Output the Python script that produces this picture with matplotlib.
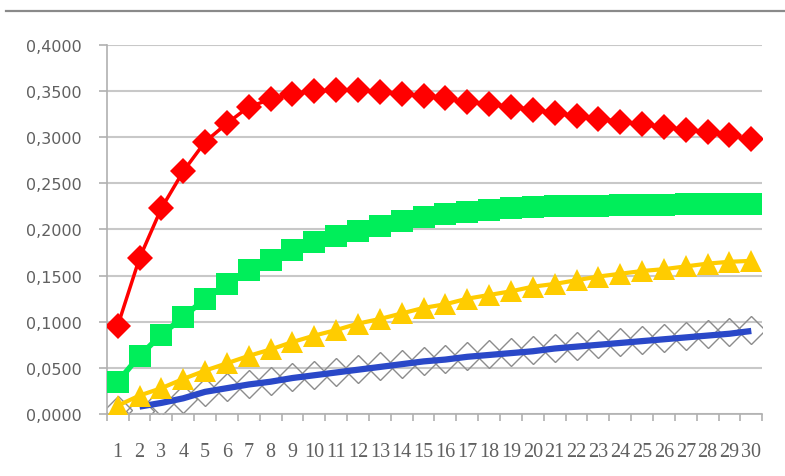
import numpy as np
import matplotlib
matplotlib.use("Agg")
import matplotlib.pyplot as plt
from matplotlib.lines import Line2D
from matplotlib.ticker import FuncFormatter, MultipleLocator

# data
categories = list(range(1, 31))
red_vals = [0.0955, 0.169, 0.223, 0.263, 0.295, 0.315, 0.333, 0.341, 0.347, 0.350,
            0.351, 0.351, 0.349, 0.347, 0.345, 0.342, 0.338, 0.336, 0.333, 0.330,
            0.326, 0.323, 0.320, 0.317, 0.314, 0.311, 0.308, 0.306, 0.302, 0.298]
green_vals = [0.035, 0.063, 0.086, 0.105, 0.125, 0.141, 0.156, 0.167, 0.178, 0.186,
              0.193, 0.198, 0.204, 0.209, 0.213, 0.217, 0.219, 0.221, 0.223, 0.224,
              0.225, 0.226, 0.226, 0.227, 0.227, 0.227, 0.228, 0.228, 0.228, 0.228]
yellow_vals = [0.009, 0.020, 0.028, 0.038, 0.047, 0.055, 0.063, 0.070, 0.078, 0.085,
               0.091, 0.098, 0.103, 0.109, 0.115, 0.119, 0.125, 0.129, 0.133, 0.138,
               0.141, 0.145, 0.149, 0.152, 0.155, 0.157, 0.160, 0.163, 0.165, 0.166]
gray_vals = [0.004, 0.003, 0.013, 0.016, 0.024, 0.029, 0.033, 0.036, 0.040, 0.042,
             0.046, 0.049, 0.052, 0.054, 0.057, 0.060, 0.063, 0.065, 0.067, 0.069,
             0.072, 0.074, 0.076, 0.078, 0.080, 0.082, 0.085, 0.087, 0.089, 0.091]
blue_cats = list(range(2, 31))
blue_vals = [0.008, 0.012, 0.017, 0.024, 0.028, 0.032, 0.035, 0.039, 0.042,
             0.045, 0.048, 0.051, 0.054, 0.057, 0.059, 0.062, 0.064, 0.066, 0.068,
             0.071, 0.073, 0.075, 0.077, 0.079, 0.081, 0.083, 0.085, 0.087, 0.090]

fig = plt.figure(figsize=(7.85, 4.77), dpi=100)
ax = fig.add_axes([0.136, 0.130, 0.835, 0.7736])

# gray frame line on top
fig.add_artist(Line2D([0.008, 1.0], [0.975, 0.975], transform=fig.transFigure,
                      color="#8a8a8a", lw=1.6))

ax.plot(categories, gray_vals, linestyle="none", marker="D", markersize=14,
        markerfacecolor="none", markeredgecolor="#8c8c8c", markeredgewidth=1.0, zorder=2)
ax.plot(blue_cats, blue_vals, color="#2a48c8", lw=4.5, zorder=3, solid_capstyle="butt")
ax.plot(categories, green_vals, color="#00ee5a", lw=4, marker="s", markersize=16,
        markeredgewidth=0, zorder=4)
ax.plot(categories, yellow_vals, color="#ffcc00", lw=3, marker="^", markersize=16,
        markeredgewidth=0, zorder=5)
ax.plot(categories, red_vals, color="#ff0000", lw=2.5, marker="D", markersize=13,
        markeredgewidth=0, zorder=6)

ax.set_xlim(0.5, 30.5)
ax.set_ylim(0, 0.4)
ax.yaxis.set_major_locator(MultipleLocator(0.05))
ax.yaxis.set_major_formatter(FuncFormatter(lambda v, p: f"{v:.4f}".replace(".", ",")))
ax.grid(axis="y", color="#c8c8c8", lw=1.5)
ax.set_axisbelow(True)

ax.set_xticks(categories)
ax.set_xticklabels([str(c) for c in categories], fontfamily="Liberation Serif",
                   fontsize=14.5, color="#606060")
ax.set_xticks(np.arange(0.5, 31, 1), minor=True)
ax.tick_params(axis="x", which="major", length=0, pad=20)
ax.tick_params(axis="x", which="minor", length=5, color="#b0b0b0", width=1.2)
ax.tick_params(axis="y", length=6, color="#b0b0b0", width=1.2, labelsize=11.5,
               labelcolor="#606060", pad=12)

for s in ["top", "right"]:
    ax.spines[s].set_visible(False)
ax.spines["left"].set_color("#b0b0b0")
ax.spines["left"].set_linewidth(1.2)
ax.spines["bottom"].set_color("#b0b0b0")
ax.spines["bottom"].set_linewidth(1.2)

fig.savefig("out.png", dpi=100)
